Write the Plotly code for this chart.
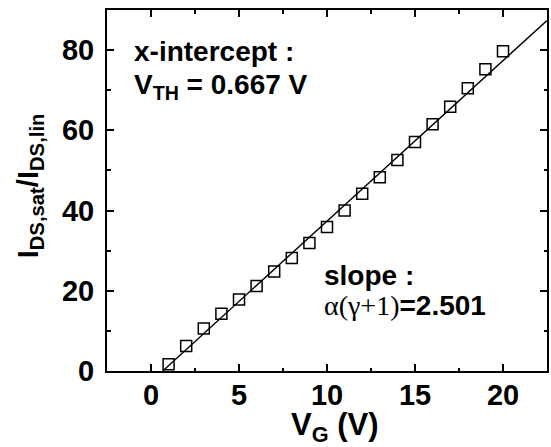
import plotly.graph_objects as go

# Data
vg = [1, 2, 3, 4, 5, 6, 7, 8, 9, 10, 11, 12, 13, 14, 15, 16, 17, 18, 19, 20]
ratio = [1.67, 6.24, 10.57, 14.3, 17.8, 21.2, 24.8, 28.2, 31.9, 35.9,
         40.0, 44.2, 48.3, 52.6, 57.1, 61.5, 65.9, 70.5, 75.2, 79.7]
fit_x = [0.667, 22.5]
fit_y = [0.0, 87.4]
x_ticks = [0, 5, 10, 15, 20]
y_ticks = [0, 20, 40, 60, 80]

W, H = 551, 447
L, R, T, B = 107, 2, 10, 76
PW, PH = W - L - R, H - T - B

def px(x):
    return (x - L) / PW

def py(y):
    return (H - B - y) / PH

fig = go.Figure()
fig.add_trace(go.Scatter(x=fit_x, y=fit_y, mode="lines",
                         line=dict(color="black", width=1.4), hoverinfo="skip"))
fig.add_trace(go.Scatter(x=vg, y=ratio, mode="markers",
                         marker=dict(symbol="square-open", size=11, color="black",
                                     line=dict(color="black", width=1.5))))

tickfont = dict(family="Liberation Sans, Arial", size=29, color="black", weight="bold")
axis_common = dict(showline=True, linecolor="black", linewidth=2, mirror="ticks",
                   ticks="inside", ticklen=7, tickwidth=1.5, tickcolor="black",
                   showgrid=False, zeroline=False, tickfont=tickfont)

fig.update_xaxes(range=[-2.5, 22.5], tickvals=x_ticks, ticktext=[str(v) for v in x_ticks],
                 minor=dict(tickvals=[-2.5, 2.5, 7.5, 12.5, 17.5, 22.5], ticks="inside",
                            ticklen=3.5, tickwidth=1.5, tickcolor="black"),
                 ticklabelstandoff=-3, **axis_common)
fig.update_yaxes(range=[0, 90], tickvals=y_ticks, ticktext=[str(v) for v in y_ticks],
                 minor=dict(tickvals=[10, 30, 50, 70, 90], ticks="inside",
                            ticklen=3.5, tickwidth=1.5, tickcolor="black"),
                 ticklabelstandoff=5, **axis_common)

afont = dict(family="Liberation Sans, Arial", size=28, color="black")
annotations = [
    dict(text="<b>x-intercept :</b>", x=px(132), y=py(51), xanchor="left", yanchor="middle"),
    dict(text="<b>V<sub>TH</sub> = 0.667 V</b>", x=px(132), y=py(87), xanchor="left", yanchor="middle"),
    dict(text="<b>slope :</b>", x=px(323), y=py(275), xanchor="left", yanchor="middle"),
    dict(text='<span style="font-family:Liberation Serif;font-weight:normal">α(γ+1)</span><b>=2.501</b>',
         x=px(323), y=py(305), xanchor="left", yanchor="middle"),
    dict(text="<b>V<sub>G</sub> (V)</b>", x=px(336), y=py(427), xanchor="center", yanchor="middle",
         font=dict(family="Liberation Sans, Arial", size=31, color="black")),
    dict(text="<b>I<sub>DS,sat</sub>/I<sub>DS,lin</sub></b>", x=px(30), y=py(186),
         xanchor="center", yanchor="middle", textangle=-90,
         font=dict(family="Liberation Sans, Arial", size=29, color="black")),
]
for a in annotations:
    a.setdefault("font", afont)
    a.update(xref="paper", yref="paper", showarrow=False)

fig.update_layout(width=W, height=H, autosize=False,
                  margin=dict(l=L, r=R, t=T, b=B),
                  paper_bgcolor="white", plot_bgcolor="white",
                  showlegend=False, annotations=annotations)

fig.write_html("out.html", config={"displayModeBar": False},
               post_script="document.body.style.margin='0';document.body.style.overflow='hidden';")
